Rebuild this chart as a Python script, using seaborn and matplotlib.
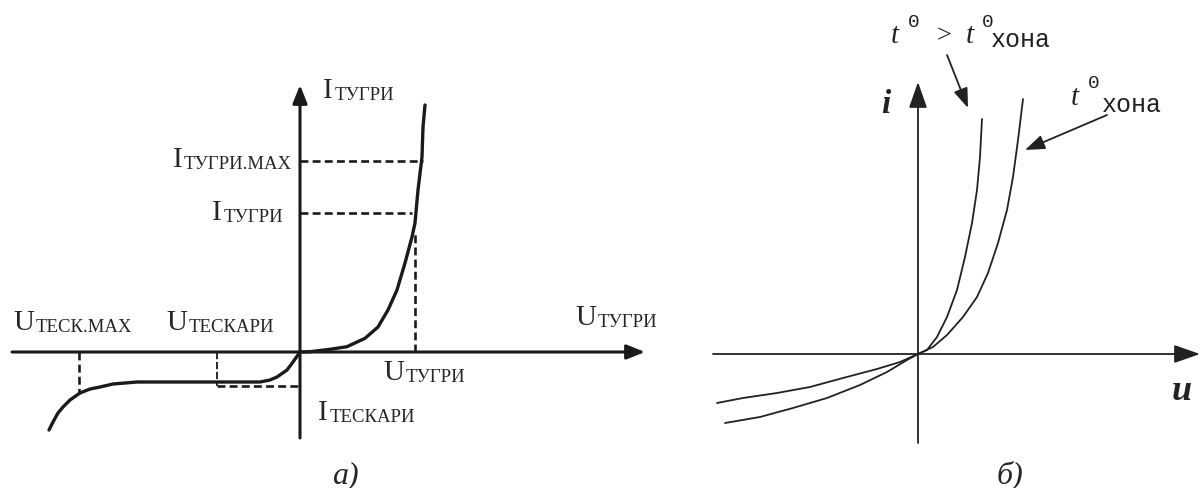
import matplotlib
matplotlib.use("Agg")
import matplotlib.pyplot as plt
import seaborn as sns

sns.set_theme(style="white")
plt.rcParams["font.family"] = ["Liberation Serif", "DejaVu Serif"]

# panel a) diode characteristic, origin at the axes crossing (pixel-like units)
diode_u = [-251, -247, -242, -237, -230, -220, -210, -200, -187, -163, -120, -83, -40, -30,
           -23, -13, -7, 0,
           10, 30, 47, 65, 78, 88, 97, 105, 112, 115, 118, 122, 123, 125]
diode_i = [-78, -70, -61, -55, -48, -41, -37, -35, -32, -30, -30, -30, -30, -28,
           -25, -18, -10, 0,
           0.3, 2.7, 5.3, 13.7, 25, 42, 62, 89, 115, 129, 162, 195, 225, 247]

# guide values
i_fwd_max = 191
i_fwd = 139
u_fwd = 115
i_rev = -34
u_rev = -83
u_rev_max = -221

# panel b) two temperatures
hot_u = [-193, -158, -125, -91, -58, -31, -11, 0, 9, 19, 29, 39, 47, 54, 59, 62, 64]
hot_i = [-69, -63, -54, -44, -31, -18, -6, 0, 4, 17, 37, 64, 97, 131, 164, 197, 235]
room_u = [-201, -175, -141, -108, -75, -41, -18, 0, 15, 29, 45, 59, 70, 80, 89, 95, 100, 105]
room_i = [-49, -44, -39, -33, -24, -15, -8, 0, 7, 19, 37, 57, 81, 111, 144, 177, 214, 255]

W, H = 1201, 488
fig = plt.figure(figsize=(W / 100, H / 100), dpi=100)
axa = fig.add_axes([0, 0, 660 / W, 1])
axb = fig.add_axes([660 / W, 0, 541 / W, 1])
axa.set_xlim(-300, 360)
axa.set_ylim(-136, 352)
axb.set_xlim(-258, 283)
axb.set_ylim(-134, 354)
for ax in (axa, axb):
    ax.axis("off")

# ---- panel a ----
head_a = "-|>,head_length=0.55,head_width=0.22"
axa.annotate("", xy=(345, 0), xytext=(-288, 0),
             arrowprops=dict(arrowstyle=head_a, mutation_scale=20, lw=2.2, color="k",
                             shrinkA=0, shrinkB=0))
axa.annotate("", xy=(0, 267), xytext=(0, -86),
             arrowprops=dict(arrowstyle=head_a, mutation_scale=20, lw=2.2, color="k",
                             shrinkA=0, shrinkB=0))

sns.lineplot(x=diode_u, y=diode_i, sort=False, estimator=None, color="k", lw=2.4, ax=axa)

dash = dict(color="k", lw=1.9, dashes=[3, 1.6])
axa.plot([0, 123], [i_fwd_max, i_fwd_max], **dash)
axa.plot([0, 112], [i_fwd, i_fwd], **dash)
axa.plot([u_fwd, u_fwd], [0, 120], **dash)
axa.plot([u_rev, 0], [i_rev, i_rev], **dash)
axa.plot([u_rev, u_rev], [0, i_rev], color="k", lw=1.3, dashes=[4, 1.5])
axa.plot([u_rev_max, u_rev_max], [0, -41], **dash)


def label(ax, x, y, main, sub, ha="left"):
    t = ax.text(x, y, main, fontsize=21, va="baseline")
    s = ax.annotate(sub, xy=(1, 0), xycoords=t, xytext=(1, 0), textcoords="offset points",
                    fontsize=13.5, va="bottom", ha="left")
    if ha == "right":
        fig.canvas.draw()
        r = fig.canvas.get_renderer()
        w = (t.get_window_extent(r).width + s.get_window_extent(r).width + 1.4)
        inv = ax.transData.inverted()
        x0 = inv.transform((0, 0))[0]
        x1 = inv.transform((w, 0))[0]
        t.set_x(x - (x1 - x0))
    return t


label(axa, 23, 254, "I", "ТУГРИ")
label(axa, -8, 185, "I", "ТУГРИ.МАХ", ha="right")
label(axa, -17, 132, "I", "ТУГРИ", ha="right")
label(axa, -287, 22, "U", "ТЕСК.МАХ")
label(axa, -134, 22, "U", "ТЕСКАРИ")
label(axa, 275, 27, "U", "ТУГРИ")
label(axa, 83, -28, "U", "ТУГРИ")
label(axa, 18, -68, "I", "ТЕСКАРИ")
axa.text(45, -131, "a)", fontsize=23, style="italic", ha="center", va="baseline")

# ---- panel b ----
head_b = "-|>,head_length=0.8,head_width=0.28"
axb.annotate("", xy=(282, 0), xytext=(-205, 0),
             arrowprops=dict(arrowstyle=head_b, mutation_scale=20, lw=1.3, color="#222",
                             shrinkA=0, shrinkB=0))
axb.annotate("", xy=(0, 272), xytext=(0, -89),
             arrowprops=dict(arrowstyle=head_b, mutation_scale=20, lw=1.3, color="#222",
                             shrinkA=0, shrinkB=0))

sns.lineplot(x=hot_u, y=hot_i, sort=False, estimator=None, color="#222", lw=1.3, ax=axb)
sns.lineplot(x=room_u, y=room_i, sort=False, estimator=None, color="#222", lw=1.3, ax=axb)

head_s = "-|>,head_length=0.6,head_width=0.22"
axb.annotate("", xy=(50, 246), xytext=(29, 299),
             arrowprops=dict(arrowstyle=head_s, mutation_scale=20, lw=1.3, color="#222",
                             shrinkA=0, shrinkB=0))
axb.annotate("", xy=(107, 204), xytext=(189, 239),
             arrowprops=dict(arrowstyle=head_s, mutation_scale=20, lw=1.3, color="#222",
                             shrinkA=0, shrinkB=0))

mono = ["Liberation Mono", "DejaVu Sans Mono"]
ital = dict(fontsize=21, style="italic", va="baseline", color="#222")
sup = dict(fontsize=14, family=mono, va="baseline", color="#222")
axb.text(-27, 311, "t", **ital)
axb.text(-10, 327, "0", **sup)
axb.text(19, 312, ">", fontsize=19, va="baseline", color="#222")
axb.text(48, 311, "t", **ital)
axb.text(64, 327, "0", **sup)
axb.text(73, 307, "хона", fontsize=18, family=mono, va="baseline", color="#222")

axb.text(153, 249, "t", **ital)
axb.text(170, 266, "0", **sup)
axb.text(184, 242, "хона", fontsize=18, family=mono, va="baseline", color="#222")

axb.text(-37, 241, "i", fontsize=24, style="italic", weight="bold", va="baseline", color="#222")
axb.text(254, -46, "u", fontsize=26, style="italic", weight="bold", va="baseline", color="#222")
axb.text(92, -129, "б)", fontsize=23, style="italic", ha="center", va="baseline")

fig.savefig("out.png", dpi=100, facecolor="white")
